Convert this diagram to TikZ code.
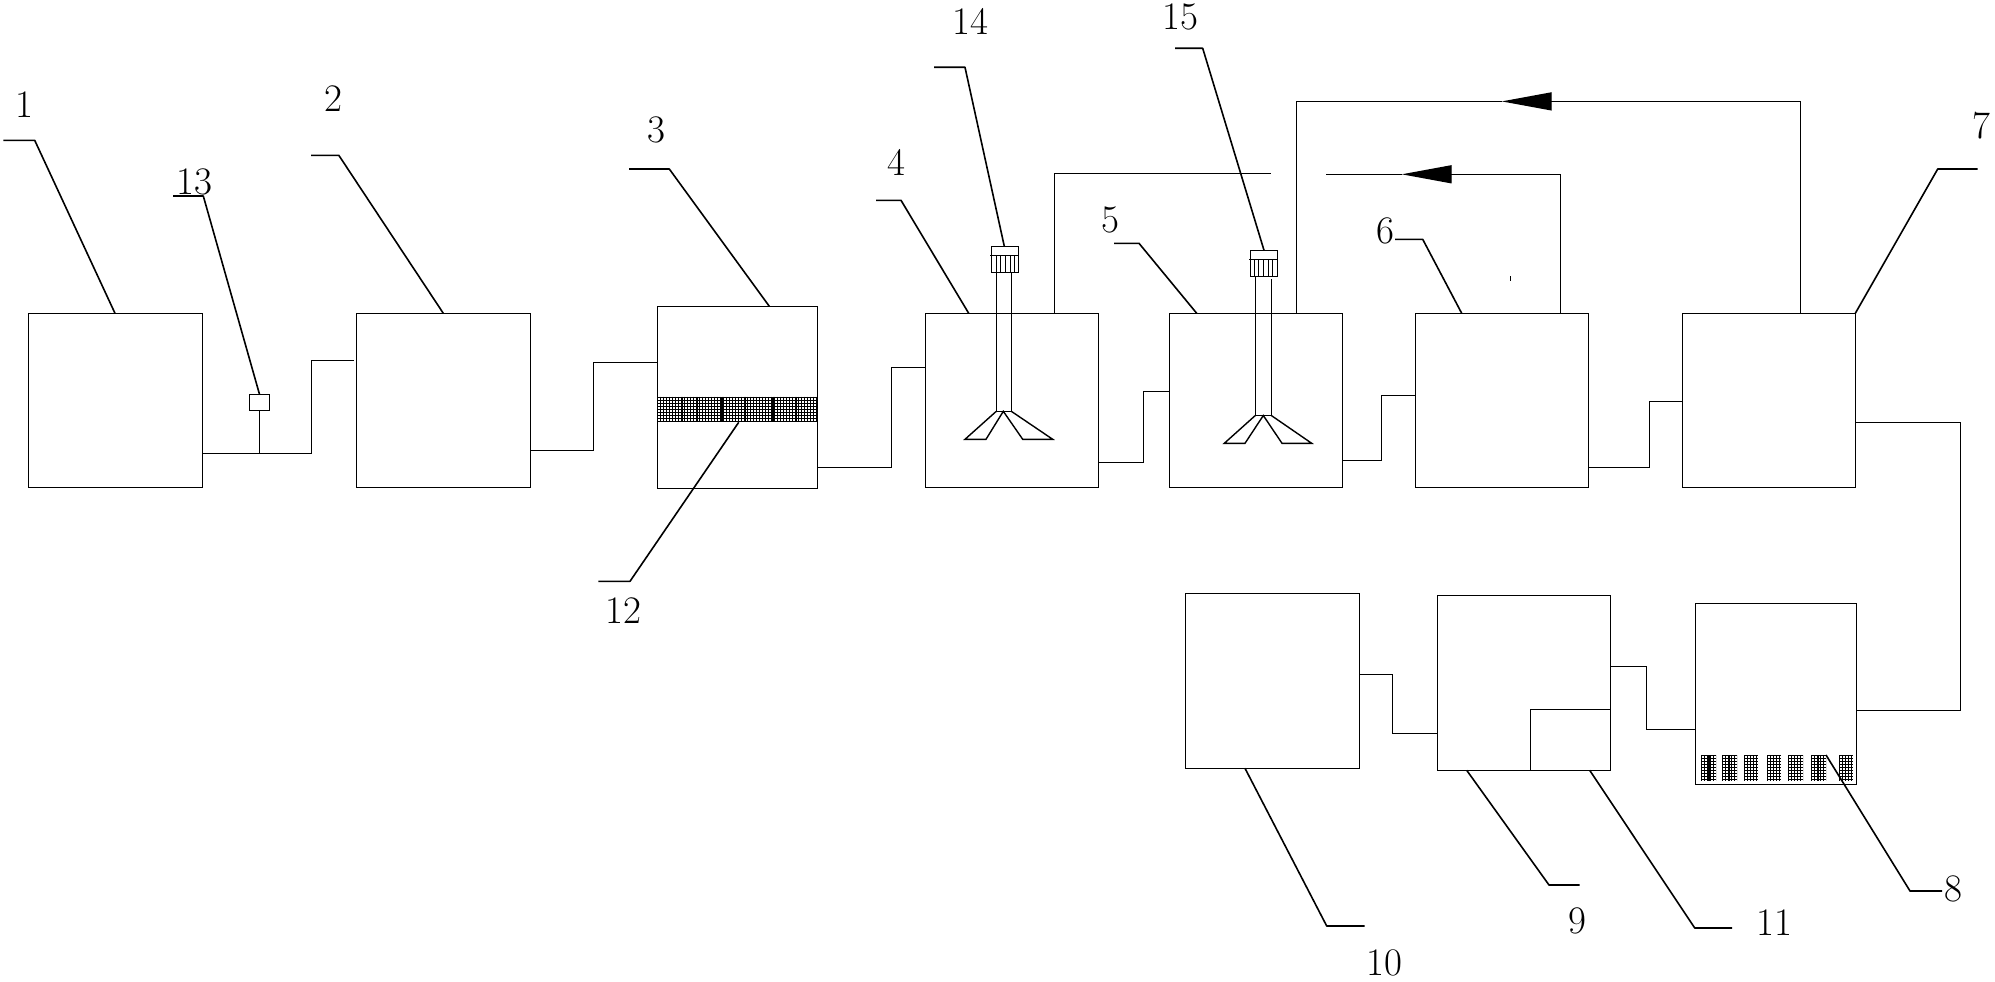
\documentclass[tikz,border=0pt]{standalone}
\usetikzlibrary{arrows.meta}
\tikzset{
  tank/.style={draw=black,line width=1.4pt,inner sep=0pt,outer sep=0pt,fill=none},
  pipe/.style={draw=black,line width=1.4pt,line join=miter},
  tick/.style={draw=black,line width=1pt},
  leader/.style={draw=black,line width=1.6pt,line join=round},
  num/.style={inner sep=0pt,outer sep=0pt,font=\fontsize{39}{39}\selectfont},
  flow/.style={pipe,-{Triangle[length=50pt,width=18pt]}},
  meshline/.style={draw=black,line width=1.05pt},
  meshbar/.style={draw=black,line width=2pt}
}
% name, x1, y1, x2, y2
\newcommand{\tankbox}[5]{\node[tank,minimum width={(#4-#2)*1pt},minimum height={(#5-#3)*1pt}] (#1) at ({(#2+#4)/2},{(#3+#5)/2}) {};}
\newcommand{\meshblock}[5]{%
  \node[inner sep=0pt,outer sep=0pt,minimum width={(#4-#2)*1pt},minimum height={(#5-#3)*1pt}] (#1) at ({(#2+#4)/2},{(#3+#5)/2}) {};
  \begin{scope}
    \clip (#2,#3) rectangle (#4,#5);
    \pgfmathsetmacro{\nx}{int((#4-#2)/3)}
    \pgfmathsetmacro{\ny}{int((#5-#3)/3)}
    \foreach \i in {0,...,\nx} {\draw[meshline] ({#2+0.5+3*\i},#3) -- ({#2+0.5+3*\i},#5);}
    \foreach \i in {0,...,\ny} {\draw[meshline] (#2,{#3+0.5+3*\i}) -- (#4,{#3+0.5+3*\i});}
  \end{scope}}
\begin{document}
\begin{tikzpicture}[x=1pt,y=-1pt]
\useasboundingbox (0,0) rectangle (1995,982);
% tanks
\tankbox{b1}{28.6}{313.3}{202.4}{487.3}
\tankbox{b2}{356.3}{313.3}{530.6}{487.3}
\tankbox{b3}{657.3}{306.3}{817.3}{488.3}
\tankbox{b4}{925.3}{313.3}{1098.3}{487.3}
\tankbox{b5}{1169.3}{313.3}{1342.3}{487.3}
\tankbox{b6}{1415.3}{313.3}{1588.3}{487.3}
\tankbox{b7}{1682.3}{313.3}{1855.3}{487.3}
\tankbox{b8}{1695.3}{603.3}{1856.3}{784.5}
\tankbox{b9}{1437.3}{595.3}{1610.3}{770.3}
\tankbox{b10}{1185.3}{593.3}{1359.3}{768.3}
\tankbox{b13}{249.3}{394.3}{269.7}{410.3}
\coordinate (c11) at (1530.3,709.5);
\draw[pipe] (1530.3,0 |- b9.south) -- (c11) -- (c11 -| b9.east);
% meshes
\meshblock{m12}{657.3}{396.7}{817.3}{422.3}
\foreach \x in {681.7,696.7,721.7,745,773,796} {\draw[meshbar] (\x,396.7) -- (\x,422.3);}
\meshblock{ma}{1701}{755}{1716}{781.2}
\meshblock{mb}{1722}{755}{1737}{781.2}
\meshblock{mc}{1744}{755}{1758}{781.2}
\meshblock{md}{1767}{755}{1781}{781.2}
\meshblock{me}{1788}{755}{1803}{781.2}
\meshblock{mf}{1811}{755}{1826}{781.2}
\meshblock{mg}{1839}{755}{1853}{781.2}
\foreach \x in {1709,1729,1818} {\draw[meshbar] (\x,755) -- (\x,781.2);}
% stirrer 14
\tankbox{s14}{991.3}{246.3}{1018.7}{272.3}
\draw[pipe] (990,255.5) -- (1018.7,255.5);
\foreach \x in {996,1000.7,1005.3,1010,1014} {\draw[tick] (\x,255.3) -- (\x,272.3);}
\draw[pipe] (996.3,272.3) -- (996.3,411.3) -- (1011.3,411.3) -- (1011.3,272.3);
\draw[pipe] (996.3,411.3) -- (965,439.3) -- (986,439.3) -- (1003.3,411.3) -- (1022.7,439.3) -- (1052.7,439.3) -- (1011.3,411.3);
% stirrer 15
\tankbox{s15}{1250.3}{250.3}{1277.7}{276.3}
\draw[pipe] (1249,259.5) -- (1277.7,259.5);
\foreach \x in {1254,1258.7,1263.3,1268,1272.7} {\draw[tick] (\x,259.3) -- (\x,276.3);}
\draw[pipe] (1255.3,276.3) -- (1255.3,415.5) -- (1271.3,415.5) -- (1271.3,279.3);
\draw[pipe] (1255.3,415.5) -- (1224.3,443.3) -- (1245,443.3) -- (1263.3,415.5) -- (1282,443.3) -- (1311.7,443.3) -- (1271.3,415.5);
% connectors
\draw[pipe,shorten >=2.6pt] (b1.east |- 0,453.3) -- (311.7,453.3) -- (311.7,360.3) -- (b2.west |- 0,360.3);
\draw[pipe] (b13.south) -- (b13.south |- 0,453.3);
\draw[pipe] (b2.east |- 0,450.3) -- (593.5,450.3) -- (593.5,362.3) -- (b3.west |- 0,362.3);
\draw[pipe] (b3.east |- 0,467.3) -- (891.3,467.3) -- (891.3,367.5) -- (b4.west |- 0,367.5);
\draw[pipe] (b4.east |- 0,462.3) -- (1143.3,462.3) -- (1143.3,391.3) -- (b5.west |- 0,391.3);
\draw[pipe] (b5.east |- 0,460.3) -- (1381.3,460.3) -- (1381.3,395.3) -- (b6.west |- 0,395.3);
\draw[pipe] (b6.east |- 0,467.3) -- (1649.3,467.3) -- (1649.3,401.3) -- (b7.west |- 0,401.3);
\draw[pipe] (b7.east |- 0,422.3) -- (1960.3,422.3) -- (1960.3,710.3) -- (b8.east |- 0,710.3);
\draw[pipe] (b9.east |- 0,666.3) -- (1646.3,666.3) -- (1646.3,729.3) -- (b8.west |- 0,729.3);
\draw[pipe] (b10.east |- 0,674.3) -- (1392.3,674.3) -- (1392.3,733.3) -- (b9.west |- 0,733.3);
% open line from tank 4
\coordinate (open4) at (1271,173.3);
\draw[pipe] (1054.3,0 |- b4.north) -- (1054.3,173.3) -- (open4);
% return lines
\coordinate (tip7) at (1501.7,101.4);
\draw[flow] (1800.3,0 |- b7.north) -- (1800.3,101.4) -- (tip7);
\draw[pipe] (tip7) -- (1296.3,101.4) -- (1296.3,0 |- b5.north);
\coordinate (tip6) at (1401.7,174.3);
\coordinate (open6) at (1325.7,174.3);
\draw[flow] (1560.3,0 |- b6.north) -- (1560.3,174.3) -- (tip6);
\draw[pipe] (tip6) -- (open6);
\draw[tick] (1510.3,276) -- (1510.3,280.7);
% labels
\node[num] (n1) at (24.5,105) {1};
\node[num] (n2) at (333.5,98.3) {2};
\node[num] (n3) at (656.7,130) {3};
\node[num] (n4) at (896.7,162.7) {4};
\node[num] (n5) at (1110.7,220) {5};
\node[num] (n6) at (1385.3,231) {6};
\node[num] (n7) at (1981,126) {7};
\node[num] (n8) at (1953.3,889) {8};
\node[num] (n9) at (1577.3,920.7) {9};
\node[num] (n10) at (1384.3,962.7) {10};
\node[num] (n11) at (1774.7,922.7) {11};
\node[num] (n12) at (623,610.7) {12};
\node[num] (n13) at (194.3,182.3) {13};
\node[num] (n14) at (970,21.7) {14};
\node[num] (n15) at (1180.7,17.3) {15};
% leaders
\draw[leader] (115,0 |- b1.north) -- (34.7,140.3) -- (3.3,140.3);
\draw[leader] (443.3,0 |- b2.north) -- (338.8,155.3) -- (311,155.3);
\draw[leader] (769.3,0 |- b3.north) -- (669.3,169) -- (629,169);
\draw[leader] (968.7,0 |- b4.north) -- (901,200.3) -- (876,200.3);
\draw[leader] (1196.7,0 |- b5.north) -- (1139,243.3) -- (1114,243.3);
\draw[leader] (1461.7,0 |- b6.north) -- (1422.7,239.3) -- (1395,239.3);
\draw[leader] (b7.north east) -- (1937.7,169) -- (1977.7,169);
\draw[leader] (mf.north east) -- (1910,891) -- (1942,891);
\draw[leader] (1466.7,0 |- b9.south) -- (1549,885) -- (1579.7,885);
\draw[leader] (1245,0 |- b10.south) -- (1326.7,926) -- (1364.7,926);
\draw[leader] (1589.7,0 |- b9.south) -- (1694.7,928) -- (1732,928);
\draw[leader] (738.7,0 |- m12.south) -- (630,581.3) -- (598.3,581.3);
\draw[leader] (b13.north) -- (203.3,196) -- (173,196);
\draw[leader] (1004.3,0 |- s14.north) -- (965,67.3) -- (934,67.3);
\draw[leader] (1264,0 |- s15.north) -- (1202.7,48.3) -- (1175,48.3);
\end{tikzpicture}
\end{document}
